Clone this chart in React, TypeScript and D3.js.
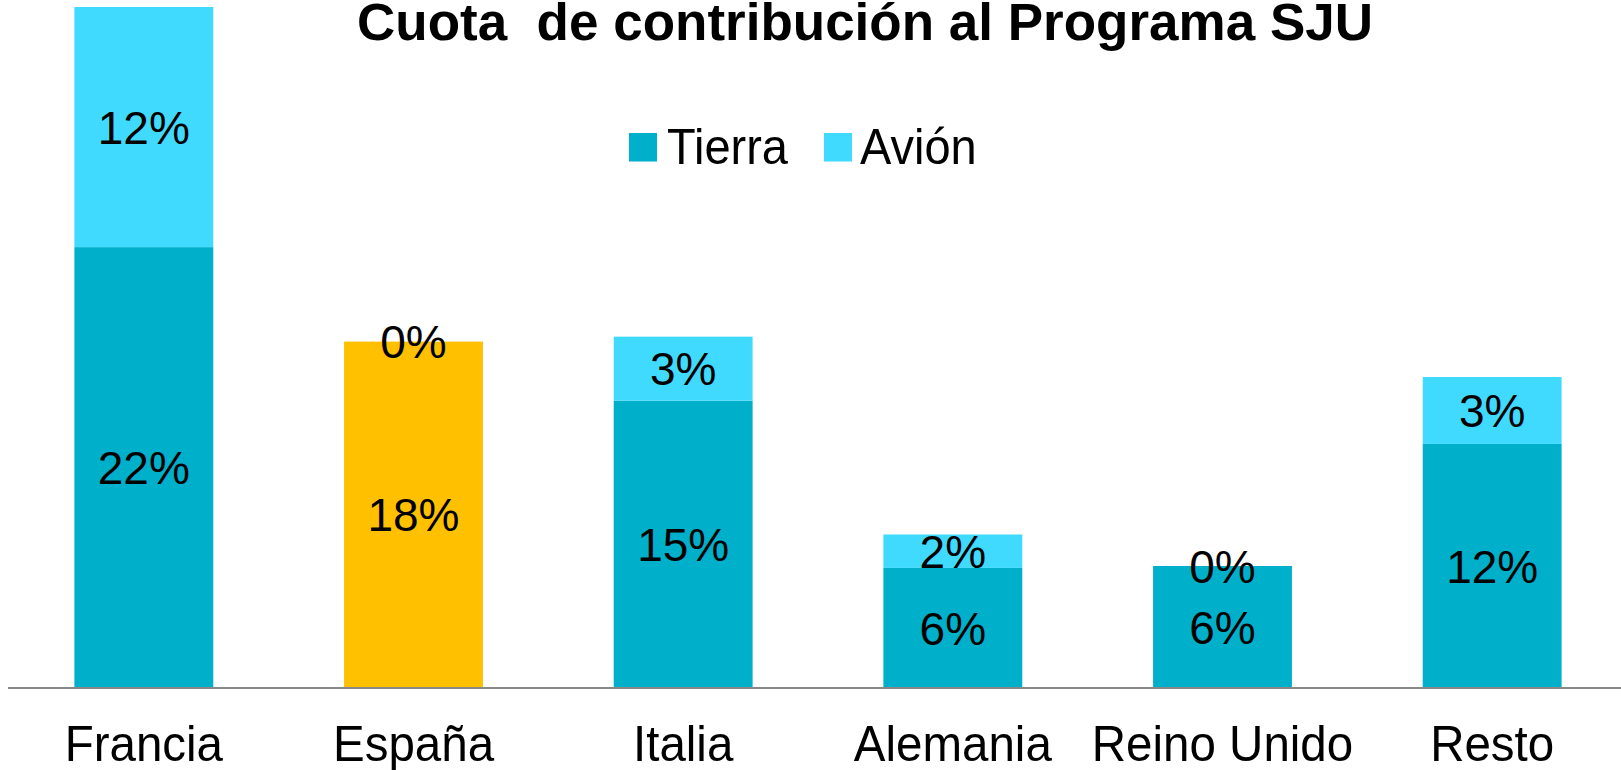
import React from "react";
import * as d3 from "d3";

const categories = ["Francia", "España", "Italia", "Alemania", "Reino Unido", "Resto"];
const tierra = [22.4, 17.6, 14.6, 6.1, 6.2, 12.4];
const avion = [12.2, 0, 3.25, 1.7, 0, 3.4];
const seriesNames = ["Tierra", "Avión"];
const highlightCategory = "España";
const title = "Cuota  de contribución al Programa SJU";

const W = 1621;
const H = 770;
const baseY = 688;
const topY = 7;

const COLOR_TIERRA = "#00AFC9";
const COLOR_AVION = "#41DAFF";
const COLOR_HIGHLIGHT = "#FFC000";
const FONT = "'Liberation Sans', Arial, sans-serif";

export default function App() {
  const totals = categories.map((_, i) => tierra[i] + avion[i]);
  const x = d3.scaleBand<string>().domain(categories).range([9, 1627]).paddingInner(0.485).paddingOuter(0.2425);
  const y = d3.scaleLinear().domain([0, d3.max(totals) as number]).range([baseY, topY]);
  const fmt = (v: number) => d3.format(".0f")(v) + "%";

  const legendItems = [
    { name: seriesNames[0], color: COLOR_TIERRA, sx: 629, tx: 667 },
    { name: seriesNames[1], color: COLOR_AVION, sx: 824, tx: 860 },
  ];

  return (
    <svg width={W} height={H} style={{ position: "absolute", left: 0, top: 0, background: "#fff" }} fontFamily={FONT}>
      <text x={865} y={40} textAnchor="middle" fontSize={51} fontWeight="bold" textLength={1016} lengthAdjust="spacingAndGlyphs" fill="#000" style={{ whiteSpace: "pre" }}>
        {title}
      </text>

      {legendItems.map((l) => (
        <g key={l.name}>
          <rect x={l.sx} y={133} width={28} height={28.5} fill={l.color} />
          <g transform={`translate(${l.tx},164) scale(1,1.08)`}>
            <text x={0} y={0} fontSize={47} fill="#000">{l.name}</text>
          </g>
        </g>
      ))}

      {categories.map((c, i) => {
        const bx = x(c) as number;
        const bw = x.bandwidth();
        const isHi = c === highlightCategory;
        const t0 = y(0), t1 = y(tierra[i]), a1 = y(tierra[i] + avion[i]);
        const cx = bx + bw / 2;
        return (
          <g key={c}>
            <rect x={bx} y={t1} width={bw} height={t0 - t1} fill={isHi ? COLOR_HIGHLIGHT : COLOR_TIERRA} />
            {avion[i] > 0 && (
              <rect x={bx} y={a1} width={bw} height={t1 - a1} fill={isHi ? COLOR_HIGHLIGHT : COLOR_AVION} />
            )}
            <text x={cx} y={(t0 + t1) / 2} dy="0.36em" textAnchor="middle" fontSize={46} fill="#000">{fmt(tierra[i])}</text>
            <text x={cx} y={(t1 + a1) / 2} dy="0.36em" textAnchor="middle" fontSize={46} fill="#000">{fmt(avion[i])}</text>
            <g transform={`translate(${cx},761) scale(1,1.06)`}>
              <text x={0} y={0} textAnchor="middle" fontSize={47.5} fill="#000">{c}</text>
            </g>
          </g>
        );
      })}

      <line x1={8} x2={W} y1={baseY} y2={baseY} stroke="#888888" strokeWidth={2} />
    </svg>
  );
}
